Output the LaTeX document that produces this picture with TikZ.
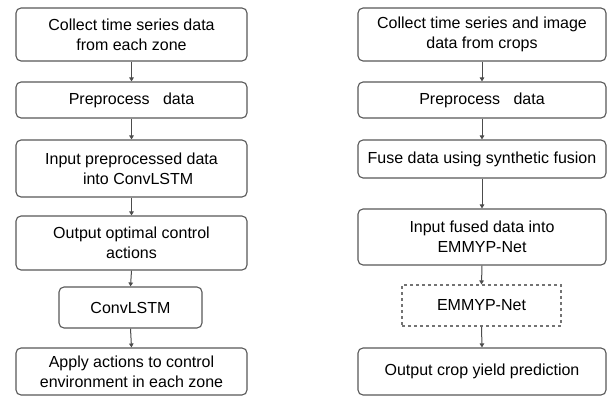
\documentclass[tikz,border=0pt]{standalone}
\usepackage{fontspec}
\setmainfont{Liberation Sans}
\usetikzlibrary{arrows.meta}
\begin{document}
\begin{tikzpicture}[x=1pt,y=-1pt,
  box/.style={draw=black!65, line width=1.1pt, rounded corners=5pt, align=center, font=\fontsize{16}{20}\selectfont, inner sep=0pt},
  dbox/.style={box, rounded corners=0pt, dashed, dash pattern=on 3pt off 3pt, draw=black!55},
  arr/.style={draw=black!70, line width=1pt, -{Triangle[length=4pt,width=4.5pt]}}]
\useasboundingbox (0,0) rectangle (608,396);
\fill[white] (0,0) rectangle (608,396);
% left column
\node[box, minimum width=231pt, minimum height=53pt] (l1) at (131.5,34.5) {Collect time series data\\from each zone};
\node[box, minimum width=231pt, minimum height=36pt] (l2) at (131.5,100) {Preprocess\ \ \ data};
\node[box, minimum width=231pt, minimum height=57pt] (l3) at (131.5,168.5) {Input preprocessed data\\\ \ \ into ConvLSTM};
\node[box, minimum width=231pt, minimum height=54pt] (l4) at (131.5,243) {Output optimal control\\actions};
\node[box, minimum width=143pt, minimum height=41pt] (l5) at (130.5,307.5) {ConvLSTM};
\node[box, minimum width=231pt, minimum height=47pt] (l6) at (131.5,371.5) {Apply actions to control\\environment in each zone};
% right column
\node[box, minimum width=248pt, minimum height=53pt] (r1) at (482,34.5) {Collect time series and image\\data from crops};
\node[box, minimum width=248pt, minimum height=36pt] (r2) at (482,100) {Preprocess\ \ \ data};
\node[box, minimum width=248pt, minimum height=38pt] (r3) at (482,159) {Fuse data using synthetic fusion};
\node[box, minimum width=248pt, minimum height=56pt] (r4) at (482,237) {Input fused data into\\EMMYP-Net};
\node[dbox, minimum width=159pt, minimum height=41pt] (r5) at (481.5,305.5) {EMMYP-Net};
\node[box, minimum width=248pt, minimum height=47pt] (r6) at (482,371.5) {Output crop yield prediction};
% arrows
\foreach \a/\b in {l1/l2,l2/l3,l3/l4,l4/l5,l5/l6,r1/r2,r2/r3,r3/r4,r4/r5,r5/r6}
  \draw[arr] (\a.south) -- (\b.north);
\end{tikzpicture}
\end{document}
